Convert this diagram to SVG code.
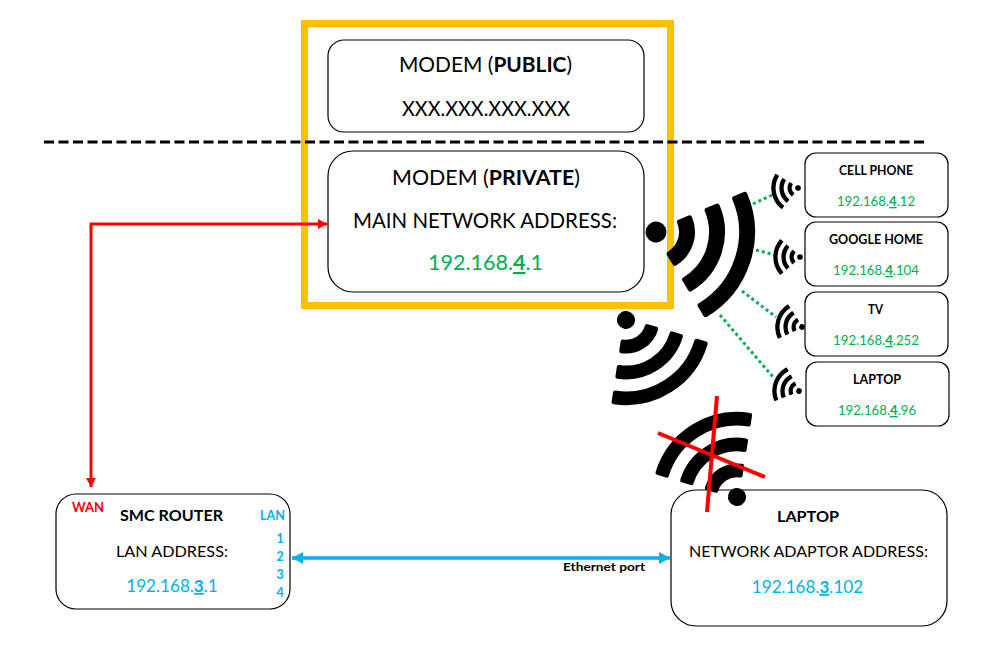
<svg xmlns="http://www.w3.org/2000/svg" width="986" height="653" viewBox="0 0 986 653">
<style>
text{font-family:Lato,"Liberation Sans",sans-serif;fill:#000}
.box{fill:#fff;stroke:#000;stroke-width:1.2}
.l{font-size:22px}
.c{text-anchor:middle}
.m{font-size:16px}
.h{font-size:15.5px;font-weight:700}
.s{font-size:12.5px;font-weight:700}
.ip{font-size:13.2px;fill:#00B050;text-anchor:middle}
.ipl{font-size:21.5px;fill:#00B050;text-anchor:middle}
.ipb{font-size:17.1px;fill:#00B0F0;text-anchor:middle}
.n{font-size:12.5px;font-weight:700;fill:#00B0F0;text-anchor:middle}
.t{font-weight:700}
.u{font-weight:700;text-decoration:underline}
.dot{fill:none;stroke:#00B050;stroke-width:3;stroke-dasharray:3 3}
.arc{fill:#000;stroke:#000;stroke-width:5;stroke-linejoin:round}
</style>
<defs>
<g id="wifi">
<circle cx="0" cy="0" r="10.500" fill="#000"/>
<path class="arc" d="M27.55 -23.95A36.5 36.5 0 0 1 27.55 23.95L19.24 16.73A25.5 25.5 0 0 0 19.24 -16.73Z"/>
<path class="arc" d="M50.19 -43.63A66.5 66.5 0 0 1 50.19 43.63L41.89 36.41A55.5 55.5 0 0 0 41.89 -36.41Z"/>
<path class="arc" d="M72.83 -63.31A96.5 96.5 0 0 1 72.83 63.31L64.53 56.1A85.5 85.5 0 0 0 64.53 -56.1Z"/>
</g>
<marker id="ar" markerUnits="userSpaceOnUse" markerWidth="10" markerHeight="10" refX="9" refY="5" orient="auto-start-reverse"><path d="M0 0L9 5L0 10Z" fill="#f00"/></marker>
<marker id="ab" markerUnits="userSpaceOnUse" markerWidth="12" markerHeight="12" refX="11" refY="6" orient="auto-start-reverse"><path d="M0 0L11 6L0 12Z" fill="#00B0F0"/></marker>
</defs>

<g id="modem-public">
<rect class="box" x="328" y="40" width="316" height="92" rx="16"/>
<text class="c" x="485.500" y="72" style="font-size:20.900px">MODEM (<tspan class="t">PUBLIC</tspan>)</text>
<text class="l" x="402" y="116" textLength="168" lengthAdjust="spacingAndGlyphs">XXX.XXX.XXX.XXX</text>
</g>
<g id="modem-private">
<rect class="box" x="328" y="151" width="316" height="141" rx="25"/>
<text class="c" x="486" y="185" style="font-size:21.400px">MODEM (<tspan class="t">PRIVATE</tspan>)</text>
<text class="l" x="353" y="228" textLength="264" lengthAdjust="spacingAndGlyphs">MAIN NETWORK ADDRESS:</text>
<text class="ipl" x="485.500" y="270">192.168.<tspan class="u">4</tspan>.1</text>
</g>
<rect id="modem-frame" x="304.500" y="23.500" width="366" height="282" fill="none" stroke="#FFC000" stroke-width="7"/>

<g id="connectors">
<line x1="44" y1="142" x2="926" y2="142" stroke="#000" stroke-width="3" stroke-dasharray="10 4.500"/>
<path d="M327 224H91V487" fill="none" stroke="#f00" stroke-width="3" marker-start="url(#ar)" marker-end="url(#ar)"/>
<line x1="292" y1="558" x2="670" y2="558" stroke="#00B0F0" stroke-width="3.500" marker-start="url(#ab)" marker-end="url(#ab)"/>
<line class="dot" x1="753" y1="204" x2="772" y2="195"/>
<line class="dot" x1="756" y1="250" x2="775" y2="255"/>
<line class="dot" x1="742" y1="291" x2="776" y2="317"/>
<line class="dot" x1="720" y1="315" x2="773" y2="377"/>
</g>

<g id="device-cell-phone">
<rect class="box" x="805" y="153" width="143" height="64" rx="11"/>
<text class="s" x="839" y="175" textLength="74" lengthAdjust="spacingAndGlyphs">CELL PHONE</text>
<text class="ip" x="876" y="206">192.168.<tspan class="u">4</tspan>.12</text>
</g>
<g id="device-google-home">
<rect class="box" x="805" y="222" width="143" height="64" rx="11"/>
<text class="s" x="829" y="244" textLength="94" lengthAdjust="spacingAndGlyphs">GOOGLE HOME</text>
<text class="ip" x="876" y="275">192.168.<tspan class="u">4</tspan>.104</text>
</g>
<g id="device-tv">
<rect class="box" x="805" y="292" width="143" height="64" rx="11"/>
<text class="s" x="868" y="314" textLength="15" lengthAdjust="spacingAndGlyphs">TV</text>
<text class="ip" x="876" y="345">192.168.<tspan class="u">4</tspan>.252</text>
</g>
<g id="device-laptop">
<rect class="box" x="806" y="362" width="143" height="64" rx="11"/>
<text class="s" x="853" y="384" textLength="48" lengthAdjust="spacingAndGlyphs">LAPTOP</text>
<text class="ip" x="877" y="415">192.168.<tspan class="u">4</tspan>.96</text>
</g>

<g id="smc-router">
<rect class="box" x="56" y="494" width="234" height="115" rx="20"/>
<text x="72" y="512" font-size="13" font-weight="700" textLength="32" lengthAdjust="spacingAndGlyphs" style="fill:#f00">WAN</text>
<text class="h" x="120" y="521" textLength="103" lengthAdjust="spacingAndGlyphs">SMC ROUTER</text>
<text x="260" y="520" font-size="13" font-weight="700" textLength="25" lengthAdjust="spacingAndGlyphs" style="fill:#00B0F0">LAN</text>
<text class="m" x="116" y="557" textLength="112" lengthAdjust="spacingAndGlyphs">LAN ADDRESS:</text>
<text class="ipb" x="172" y="592">192.168.<tspan class="u">3</tspan>.1</text>
<text class="n" x="280" y="543">1</text>
<text class="n" x="280" y="561">2</text>
<text class="n" x="280" y="579">3</text>
<text class="n" x="280" y="597">4</text>
</g>
<g id="laptop">
<rect class="box" x="671" y="490" width="276" height="136" rx="25"/>
<text class="h" x="777" y="522" textLength="62" lengthAdjust="spacingAndGlyphs">LAPTOP</text>
<text class="m" x="689" y="557" textLength="239" lengthAdjust="spacingAndGlyphs">NETWORK ADAPTOR ADDRESS:</text>
<text class="ipb" x="807.500" y="593">192.168.<tspan class="u">3</tspan>.102</text>
</g>
<text id="ethernet-label" x="563" y="571" font-size="12" font-weight="700" textLength="82" lengthAdjust="spacingAndGlyphs">Ethernet port</text>

<g id="wifi-icons">
<use href="#wifi" transform="translate(656 232) rotate(18)"/>
<use href="#wifi" transform="translate(626 320) rotate(57.500) scale(.86)"/>
<use href="#wifi" transform="translate(737 497) rotate(-122) scale(.86)"/>
<use href="#wifi" transform="translate(798 188) rotate(170) scale(.27)"/>
<use href="#wifi" transform="translate(800 257) rotate(180) scale(.27)"/>
<use href="#wifi" transform="translate(802 327) rotate(196) scale(.27)"/>
<use href="#wifi" transform="translate(799 391) rotate(200) scale(.27)"/>
</g>
<g id="red-cross" stroke="#f00" stroke-width="4">
<line x1="658" y1="433" x2="765" y2="477"/>
<line x1="717" y1="396" x2="707" y2="512"/>
</g>
</svg>
